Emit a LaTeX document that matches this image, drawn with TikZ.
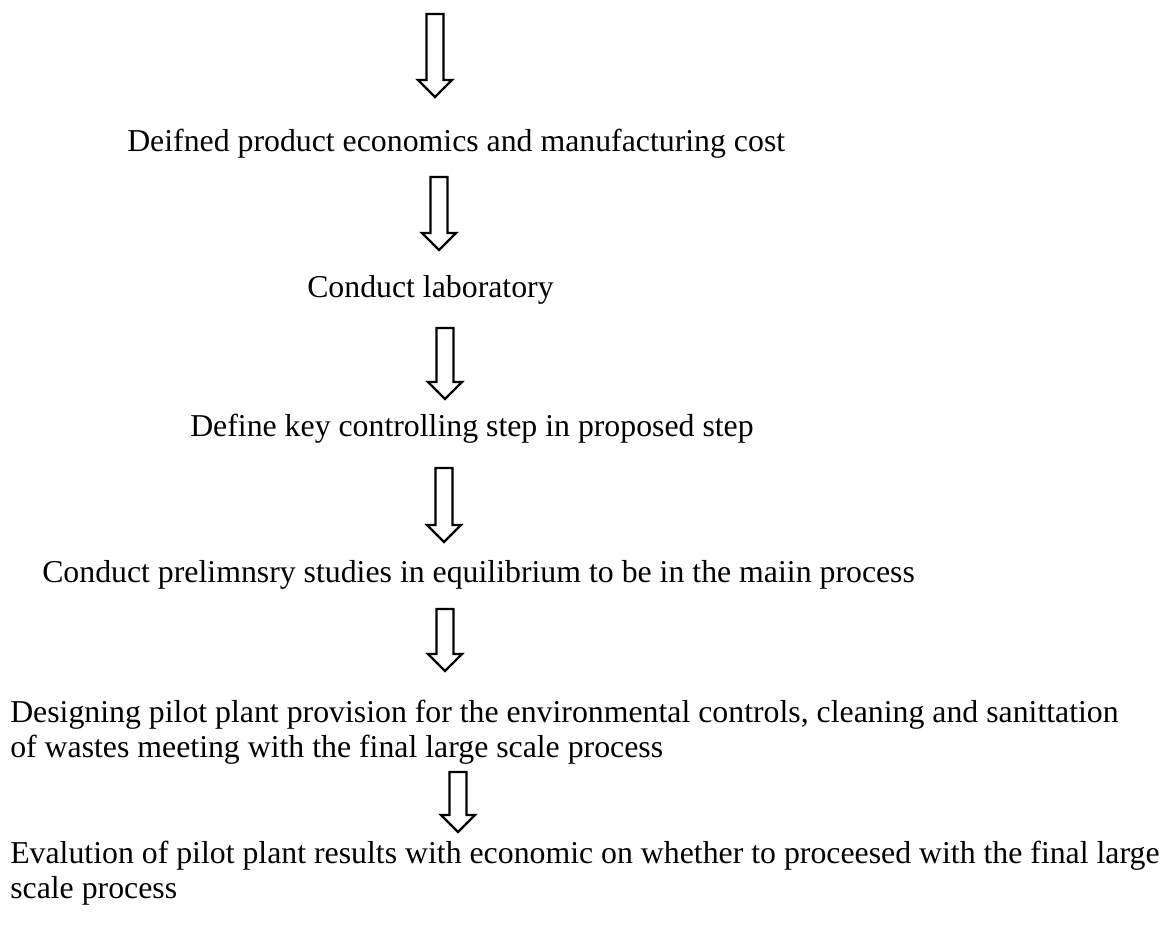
\documentclass[tikz,border=0pt]{standalone}
\usepackage{fontspec}
\setmainfont{Liberation Serif}
\tikzset{
  arrowline/.style={draw=black, line width=1.8pt, line join=miter, fill=white},
  steptext/.style={inner sep=0pt, anchor=base west, font=\fontsize{23.85pt}{26.25pt}\selectfont, align=left},
  pics/barrow/.style={code={%
    \draw[arrowline] (-8.5,0) -- (8.5,0) -- (8.5,#1-17) -- (17,#1-17) -- (0,#1) -- (-17,#1-17) -- (-8.5,#1-17) -- cycle;}}
}
\begin{document}
\begin{tikzpicture}[x=0.75pt, y=-0.75pt]
\useasboundingbox (0,0) rectangle (1174,927);
\fill[white] (0,0) rectangle (1174,927);
% step texts
\node[steptext] (t1) at (127,152) {Deifned product economics and manufacturing cost};
\node[steptext] (t2) at (307,297) {Conduct laboratory};
\node[steptext] (t3) at (190,436) {Define key controlling step in proposed step};
\node[steptext] (t4) at (42,582) {Conduct prelimnsry studies in equilibrium to be in the maiin process};
\node[steptext, anchor=north west] (t5) at (10,700) {Designing pilot plant provision for the environmental controls, cleaning and sanittation\\of wastes meeting with the final large scale process};
\node[steptext, anchor=north west] (t6) at (10,841) {Evalution of pilot plant results with economic on whether to proceesed with the final large\\scale process};
% block arrows
\pic (a1) at (435,14) {barrow=83};
\pic (a2) at (439,177) {barrow=73};
\pic (a3) at (445,328) {barrow=71};
\pic (a4) at (444,468) {barrow=74};
\pic (a5) at (445,609) {barrow=62};
\pic (a6) at (458,772) {barrow=60};
\end{tikzpicture}
\end{document}
